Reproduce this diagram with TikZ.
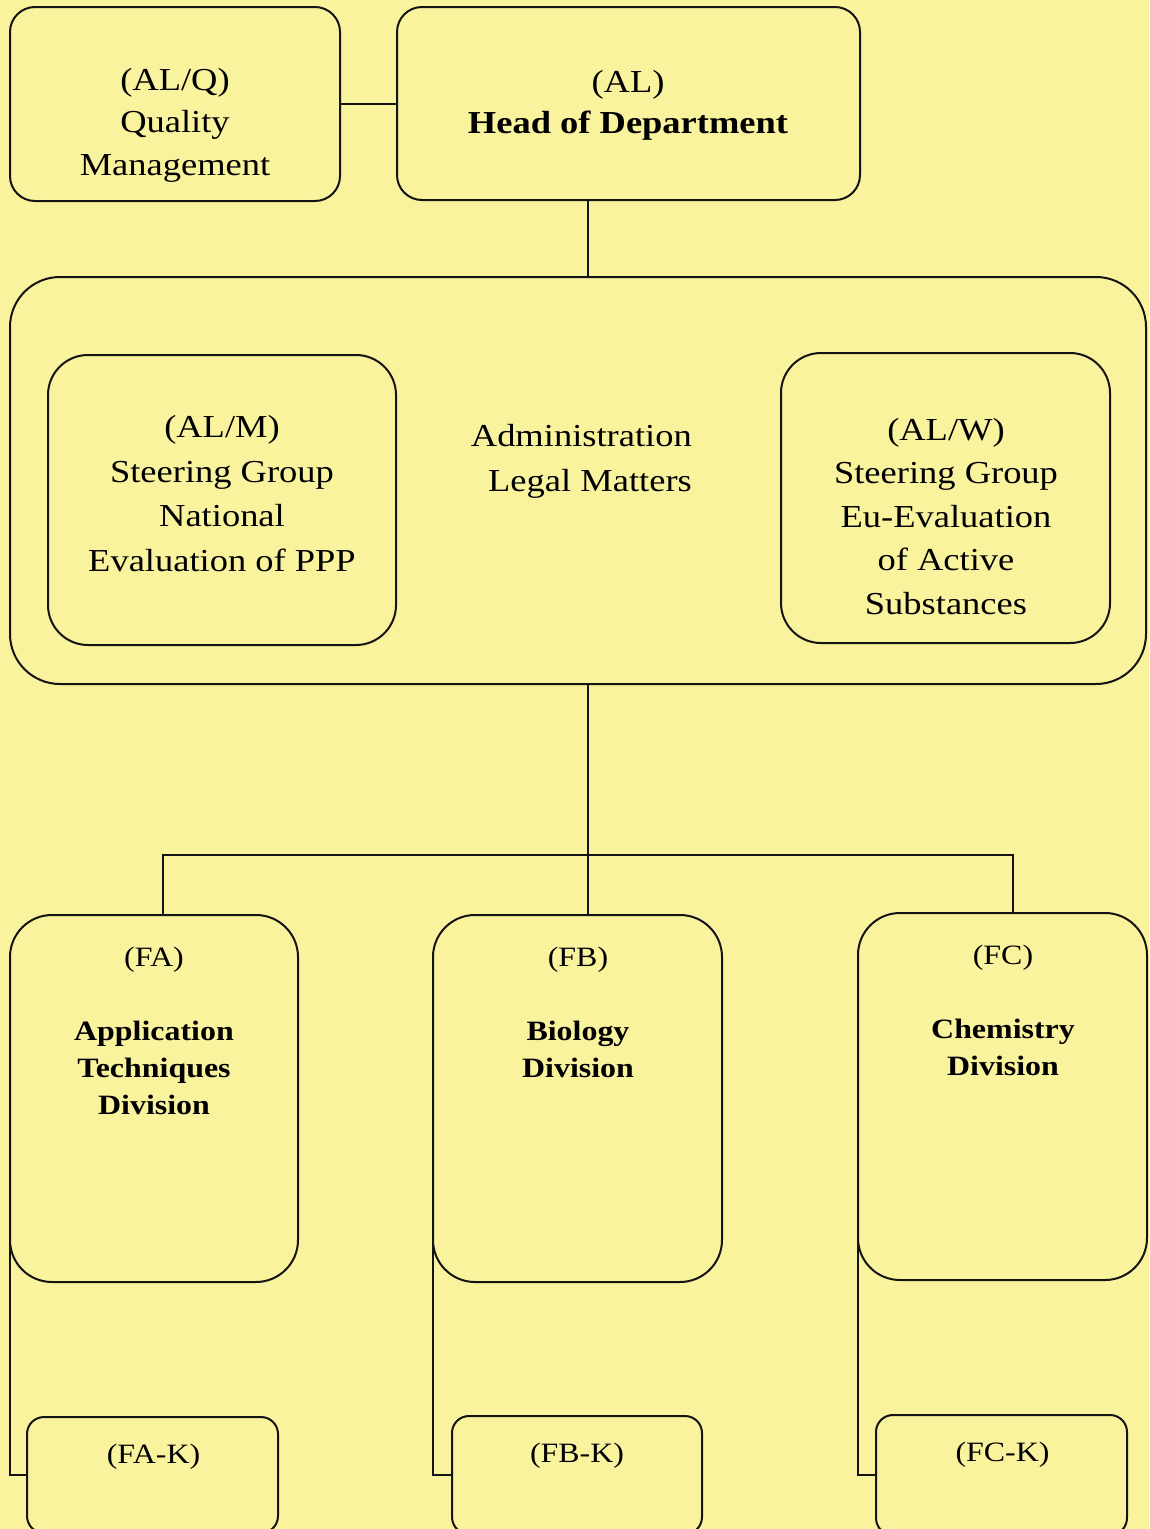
\documentclass[tikz,border=0pt]{standalone}
\usepackage{fontspec}
\setmainfont{Liberation Serif}[FakeStretch=1.14]
\definecolor{bg}{RGB}{250,243,158}
\begin{document}
\begin{tikzpicture}[x=1pt,y=-1pt,
  box/.style={draw=black!92, line width=2pt, rounded corners=#1, inner sep=0pt, outer sep=0pt},
  box/.default=25pt,
  conn/.style={draw=black!92, line width=2pt},
  toptext/.style={font=\fontsize{32}{42.5}\selectfont, align=center, anchor=base, inner sep=0pt},
  midtext/.style={font=\fontsize{32}{44.5}\selectfont, align=center, anchor=base, inner sep=0pt},
  divtext/.style={font=\fontsize{28}{37}\selectfont, align=center, anchor=base, inner sep=0pt}]
\useasboundingbox (0,0) rectangle (1149,1529);
\fill[bg] (0,0) rectangle (1149,1529);

% boxes
\node[box=25pt, minimum width=330pt, minimum height=194pt] (alq) at (175,104) {};
\node[box=25pt, minimum width=463pt, minimum height=193pt] (al) at (628.5,103.5) {};
\node[box=50pt, minimum width=1136pt, minimum height=407pt] (big) at (578,480.5) {};
\node[box=40pt, minimum width=348pt, minimum height=290pt] (alm) at (222,500) {};
\node[box=40pt, minimum width=329pt, minimum height=290pt] (alw) at (945.5,498) {};
\node[box=42pt, minimum width=288pt, minimum height=367pt] (fa) at (154,1098.5) {};
\node[box=42pt, minimum width=289pt, minimum height=367pt] (fb) at (577.5,1098.5) {};
\node[box=42pt, minimum width=289pt, minimum height=367pt] (fc) at (1002.5,1096.5) {};
\node[box=17pt, minimum width=251pt, minimum height=116pt] (fak) at (152.5,1475) {};
\node[box=17pt, minimum width=250pt, minimum height=118pt] (fbk) at (577,1475) {};
\node[box=17pt, minimum width=251pt, minimum height=120pt] (fck) at (1001.5,1475) {};

% texts (anchor = baseline of the last line)
\node[toptext] (alqt) at (175,175) {(AL/Q)\\Quality\\Management};
\node[toptext, font=\fontsize{32}{41}\selectfont] (alt) at (628,133) {(AL)\\\textbf{Head of Department}};
\node[midtext] (almt) at (222,571) {(AL/M)\\Steering Group\\National\\Evaluation of PPP};
\node[midtext, font=\fontsize{32}{43.5}\selectfont] (alwt) at (946,614) {(AL/W)\\Steering Group\\Eu-Evaluation\\of Active\\Substances};
\node[midtext, align=right, anchor=base east] (admt) at (692,491) {Administration\\Legal Matters};
\node[divtext] (fat) at (154,1114) {(FA)\\[37pt]\textbf{Application}\\\textbf{Techniques}\\\textbf{Division}};
\node[divtext] (fbt) at (578,1077) {(FB)\\[37pt]\textbf{Biology}\\\textbf{Division}};
\node[divtext] (fct) at (1003,1075) {(FC)\\[37pt]\textbf{Chemistry}\\\textbf{Division}};
\node[divtext] (fakt) at (153.5,1463) {(FA-K)};
\node[divtext] (fbkt) at (577,1462) {(FB-K)};
\node[divtext] (fckt) at (1002.5,1461) {(FC-K)};

% connectors
\coordinate (spine) at (588,0);
\coordinate (ja) at (163,855);
\coordinate (jb) at (588,855);
\coordinate (jc) at (1013,855);
\draw[conn] (alq.east) -- (alq.east -| al.west);
\draw[conn] (spine |- al.south) -- (spine |- big.north);
\draw[conn] (spine |- big.south) -- (spine |- fb.north);
\draw[conn] (ja |- fa.north) -- (ja) -- (jc) -- (jc |- fc.north);
\draw[conn] (fa.west) -- (fa.west |- fak.west) -- (fak.west);
\draw[conn] (fb.west) -- (fb.west |- fbk.west) -- (fbk.west);
\draw[conn] (fc.west) -- (fc.west |- fck.west) -- (fck.west);
\end{tikzpicture}
\end{document}
